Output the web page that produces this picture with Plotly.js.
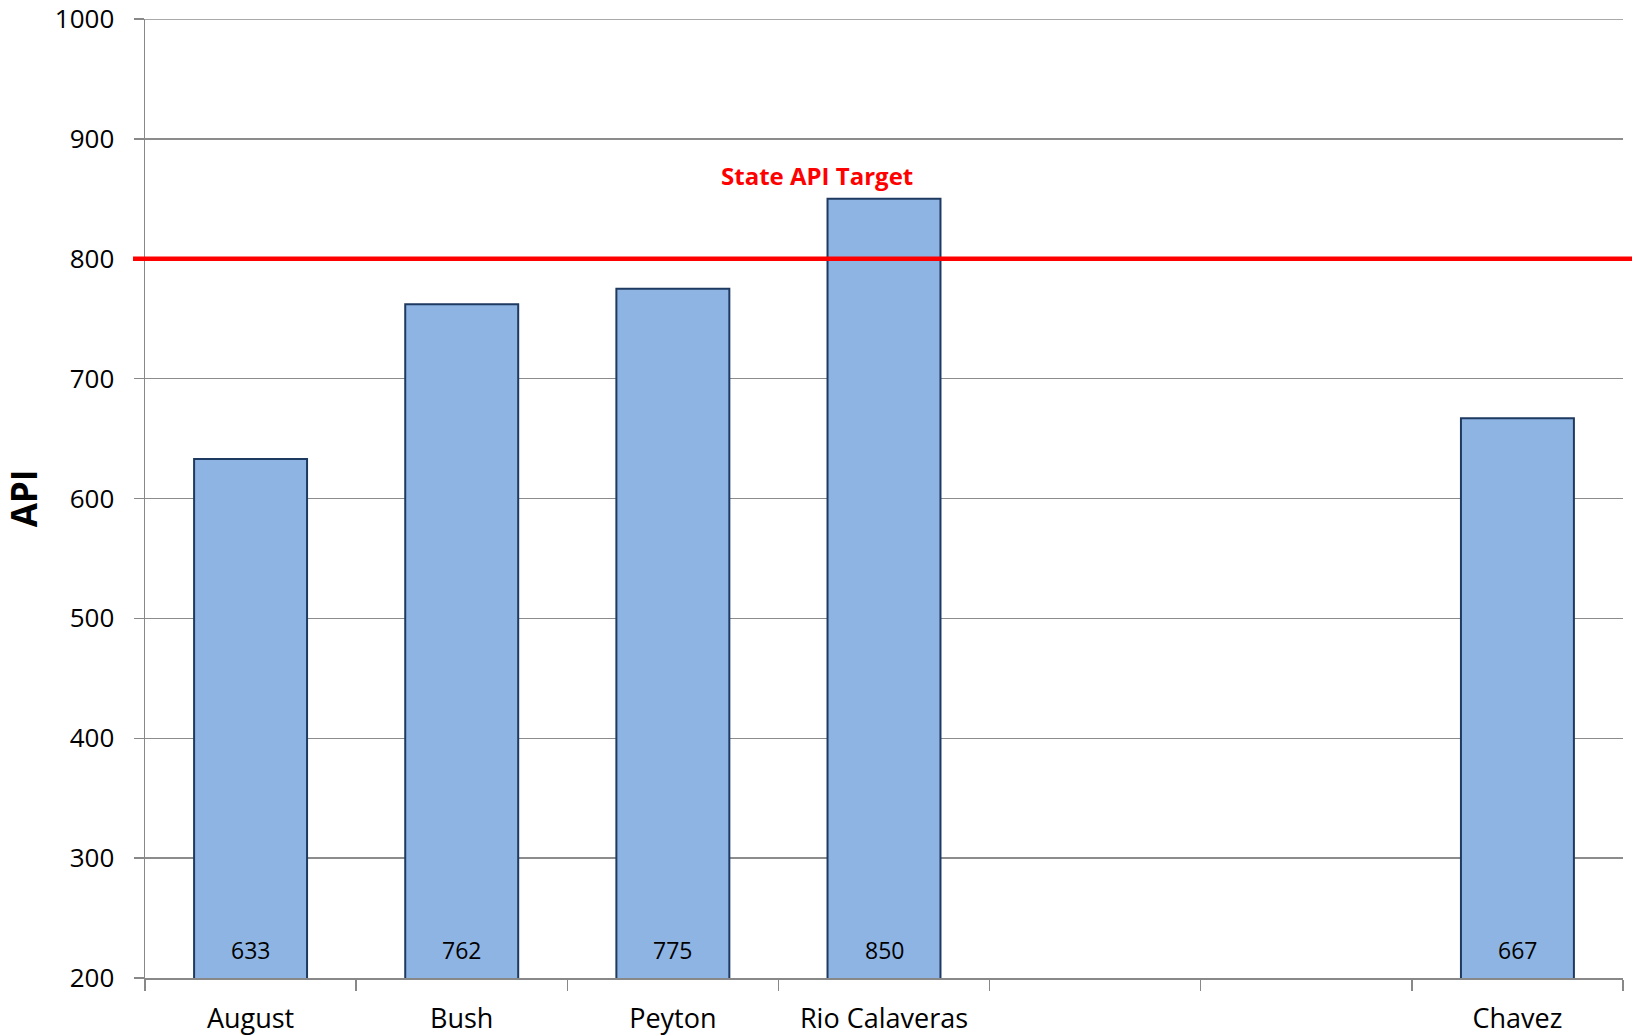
<!DOCTYPE html>
<html>
<head>
<meta charset="utf-8">
<script src="https://cdn.plot.ly/plotly-3.0.1.min.js"></script>
<style>html,body{margin:0;padding:0;background:#fff;}#chart{width:1632px;height:1036px;}</style>
</head>
<body>
<div id="chart"></div>
<script>
const categories = ['August', 'Bush', 'Peyton', 'Rio Calaveras', 'blank1', 'blank2', 'Chavez'];
const categoryLabels = ['August', 'Bush', 'Peyton', 'Rio Calaveras', '', '', 'Chavez'];
const apiScores = [633, 762, 775, 850, null, null, 667];
const stateTarget = 800;
const targetLabel = 'State API Target';
const yTicks = [200, 300, 400, 500, 600, 700, 800, 900, 1000];
const yMin = 200;
const yMax = 1000;

const font = 'Open Sans, Noto Sans, sans-serif';

const barTrace = {
  type: 'bar',
  x: categories,
  y: apiScores,
  marker: {color: '#8EB4E3', line: {color: '#1F3A60', width: 2}},
  width: 0.535,
  hoverinfo: 'x+y'
};

const annotations = [];
categories.forEach((c, i) => {
  if (apiScores[i] !== null) {
    annotations.push({
      x: c, xref: 'x', y: 0, yref: 'paper', yanchor: 'middle', yshift: 28,
      text: String(apiScores[i]), showarrow: false,
      font: {family: font, size: 23, color: '#000'}
    });
  }
});
annotations.push({
  x: 0.455, xref: 'paper', y: 0.837, yref: 'paper', xanchor: 'center', yanchor: 'middle',
  text: '<b>' + targetLabel + '</b>', showarrow: false,
  font: {family: font, size: 24, color: '#FF0000'}
});

const layout = {
  width: 1632, height: 1036,
  margin: {l: 145, r: 9, t: 19, b: 58, pad: 0},
  paper_bgcolor: '#fff', plot_bgcolor: '#fff',
  showlegend: false,
  font: {family: font, color: '#000'},
  xaxis: {
    type: 'category',
    categoryorder: 'array', categoryarray: categories,
    tickmode: 'array', tickvals: categories, ticktext: categoryLabels,
    tickson: 'boundaries',
    ticks: 'outside', ticklen: 11, tickwidth: 1.5, tickcolor: '#888',
    showline: true, linecolor: '#888', linewidth: 1.5,
    showgrid: false,
    range: [-0.5, 6.5],
    tickfont: {family: font, size: 27, color: '#000'},
    ticklabelstandoff: 16
  },
  yaxis: {
    range: [yMin, yMax],
    tickmode: 'array', tickvals: yTicks,
    ticks: 'outside', ticklen: 10, tickwidth: 1.5, tickcolor: '#888',
    showline: true, linecolor: '#888', linewidth: 1.5,
    showgrid: true, gridcolor: '#8c8c8c', gridwidth: 1.5,
    zeroline: false,
    ticklabeloverflow: 'allow',
    tickfont: {family: font, size: 26, color: '#000'},
    ticklabelstandoff: 14,
    title: {text: '<b>API</b>', font: {family: font, size: 35, color: '#000'}, standoff: 30}
  },
  shapes: [
    {
      type: 'line', xref: 'paper', yref: 'y',
      x0: -0.0068, x1: 1, y0: yMax, y1: yMax,
      line: {color: '#8c8c8c', width: 1.5}, layer: 'below'
    },
    {
      type: 'line', xref: 'paper', yref: 'y',
      x0: -0.0081, x1: 1.01, y0: stateTarget, y1: stateTarget,
      line: {color: '#FF0000', width: 4.5}, layer: 'above'
    }
  ],
  annotations: annotations
};

Plotly.newPlot('chart', [barTrace], layout, {displayModeBar: false, staticPlot: true});
</script>
</body>
</html>
